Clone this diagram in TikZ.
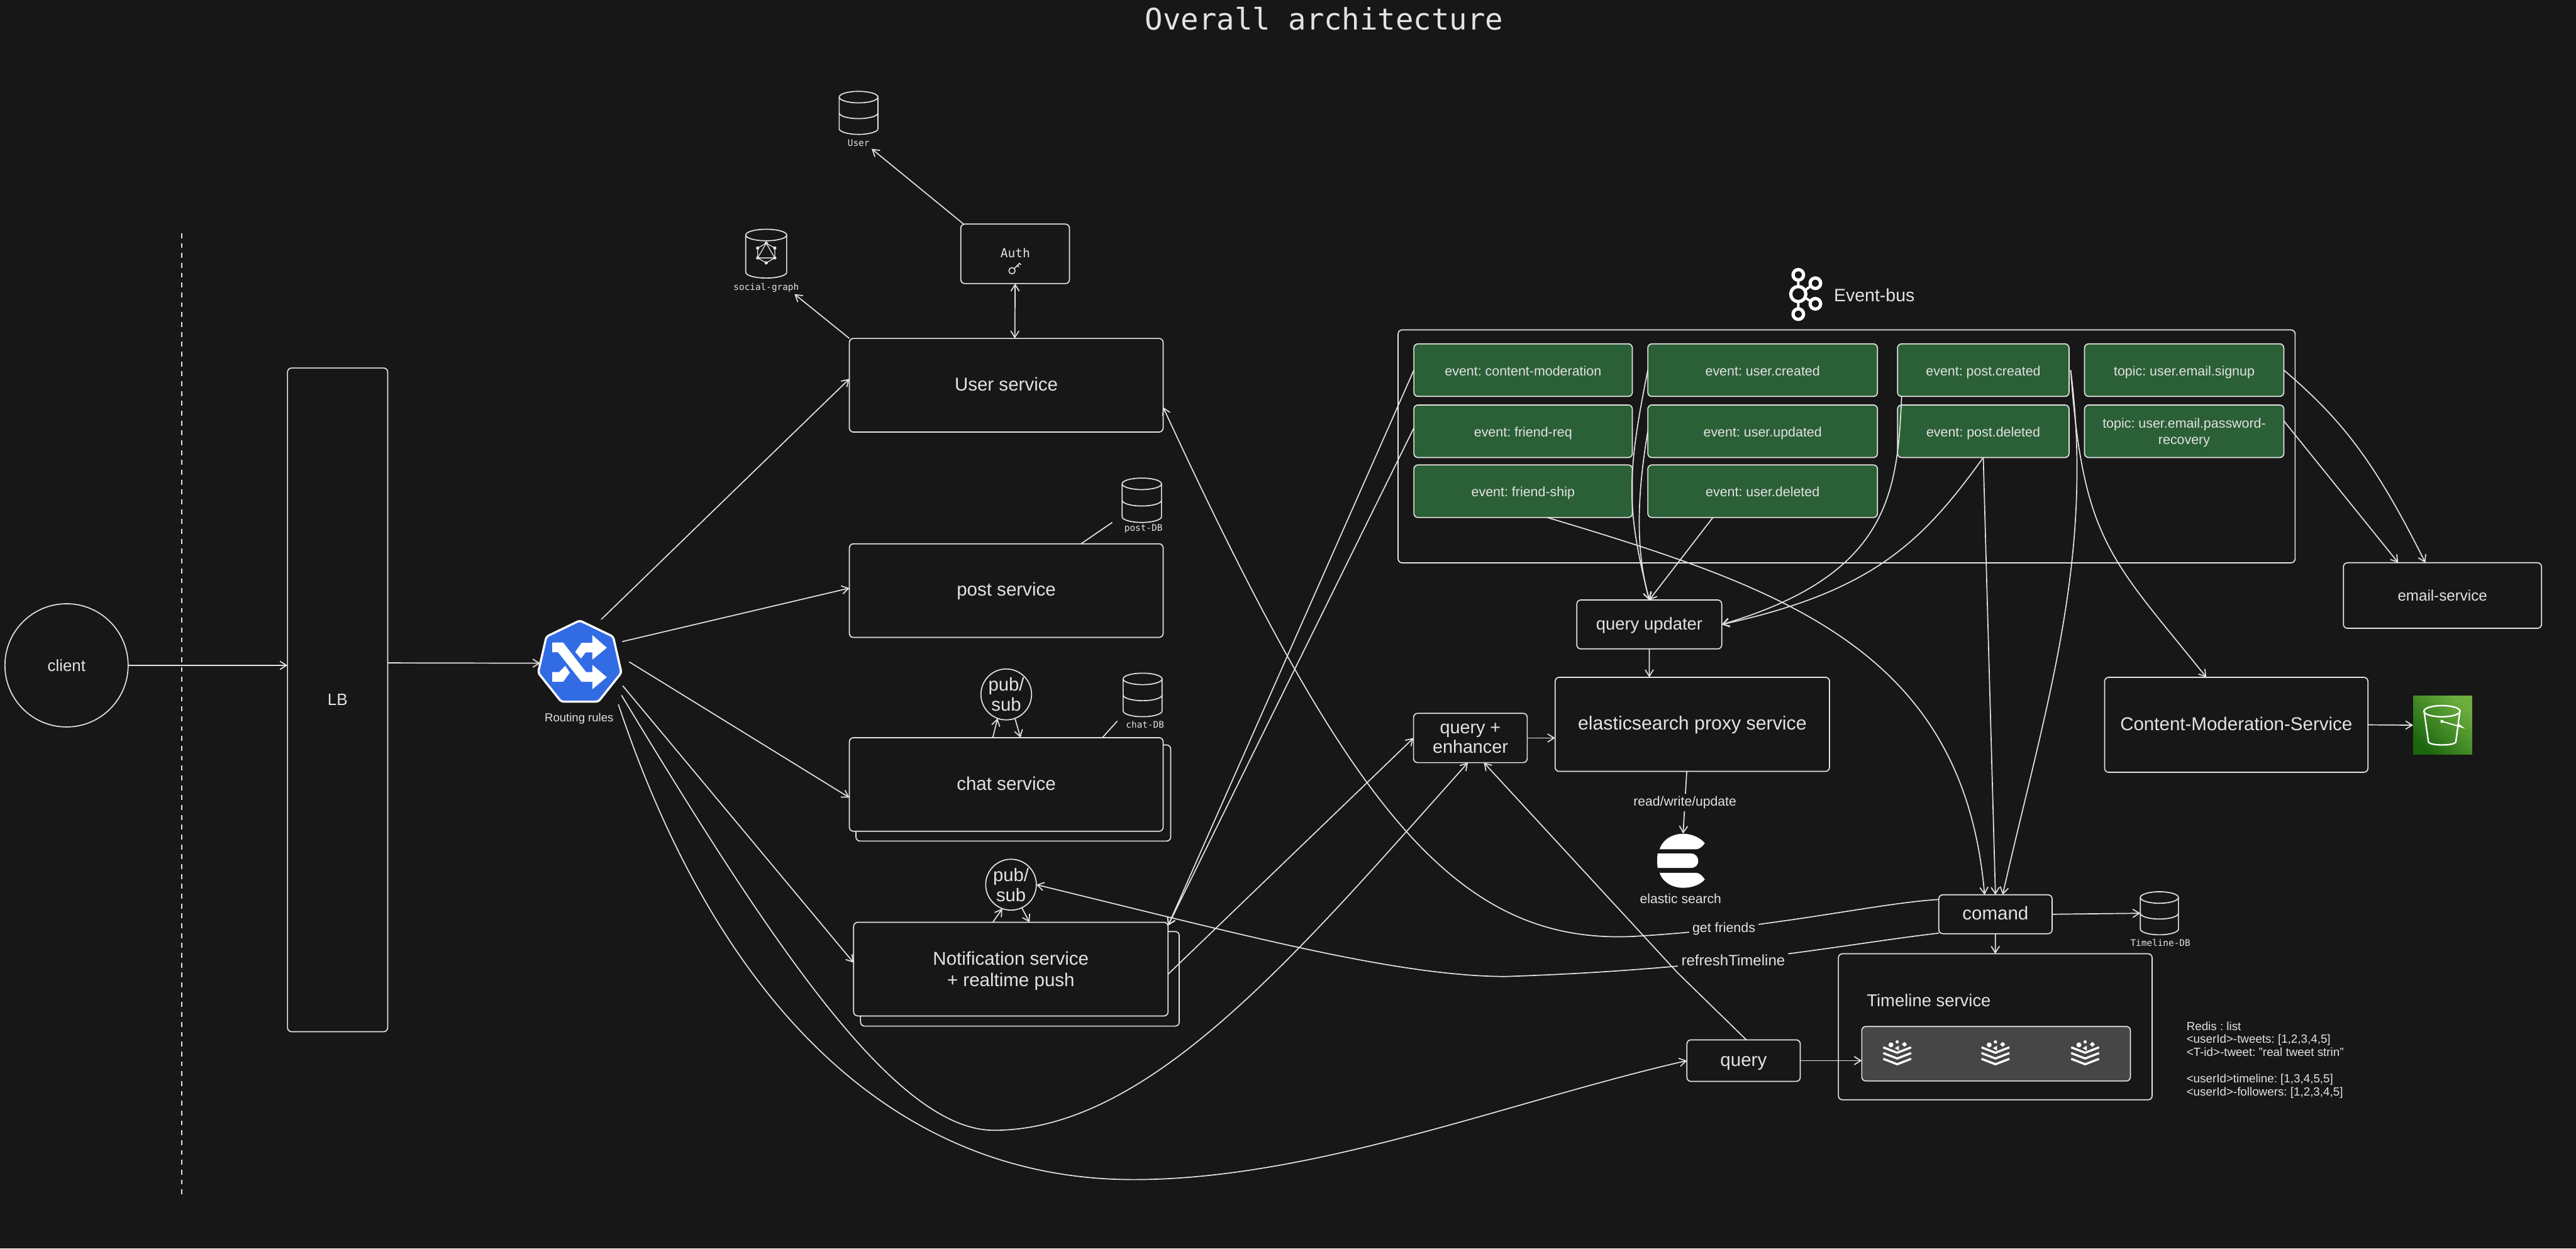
\documentclass[tikz,border=0pt]{standalone}
\usepackage{fontspec}
\setmainfont{Liberation Sans}
\setmonofont{DejaVu Sans Mono}
\usetikzlibrary{arrows.meta,shapes.geometric}
\definecolor{bgcol}{HTML}{171717}
\definecolor{inkcol}{HTML}{E3E3E3}
\definecolor{greencol}{HTML}{2B5F36}
\definecolor{panelcol}{HTML}{464646}
\definecolor{bluecol}{HTML}{326CE5}
\definecolor{slow}{HTML}{1B660F}
\definecolor{shigh}{HTML}{6CAE3E}
\newcommand{\sizedfont}[1]{\fontsize{#1}{#1}\selectfont}
\newcommand{\dbicon}[5]{
  \pgfmathsetmacro{\dbw}{#4/2}
  \pgfmathsetmacro{\dbh}{#5/2-3.5}
  \node[minimum width=#4pt,minimum height=#5pt,inner sep=0pt,outer sep=0pt] (#1) at (#2,#3) {};
  \begin{scope}[shift={(#2,#3)}]
    \draw[inkcol] (-\dbw,-\dbh) -- (-\dbw,\dbh)
      arc[start angle=180,end angle=360,x radius=\dbw pt,y radius=3.5pt] -- (\dbw,-\dbh);
    \draw[inkcol] (0,-\dbh) ellipse[x radius=\dbw pt,y radius=3.5pt];
  \end{scope}
}
\newcommand{\dbband}[2]{\draw[inkcol] (#1.west) arc[start angle=180,end angle=360,x radius=#2pt,y radius=3.5pt];}
\frenchspacing
\begin{document}
\begin{tikzpicture}[
  x=1pt,y=-1pt,
  >={Straight Barb[length=4pt,width=5pt]},
  every path/.style={line width=0.65pt},
  svc/.style 2 args={draw=inkcol,fill=bgcol,text=inkcol,rounded corners=2.5pt,align=center,
    text height=0.8em,text depth=0.13em,
    minimum width=#1pt,minimum height=#2pt,inner sep=0pt,outer sep=0pt,font=\fontsize{11.3}{12.8}\selectfont},
  evt/.style 2 args={svc={#1}{#2},fill=greencol,font=\fontsize{8.2}{9.6}\selectfont},
  multi/.style={text height={},text depth=0pt},
  pubsub/.style={draw=inkcol,ellipse,minimum width=29pt,minimum height=31pt,inner sep=0pt,outer sep=0pt,
    align=center,text=inkcol,font=\fontsize{11.2}{12.3}\selectfont},
  lbl/.style={fill=bgcol,text=inkcol,inner xsep=2pt,inner ysep=1.5pt,font=\sizedfont{8.2}},
  mono/.style={text=inkcol,inner sep=1pt,font=\ttfamily\sizedfont{5.5}},
  plain/.style={text=inkcol,inner sep=1pt},
  wire/.style={draw=inkcol,->}]
\fill[bgcol] (0,0) rectangle (1568,760);
\node[text=inkcol,inner sep=0pt,font=\ttfamily\sizedfont{18.1}] (title) at (806,11.5) {Overall architecture};
\coordinate (splittop) at (110.5,142);
\coordinate (splitbottom) at (110.5,727);
\draw[inkcol,dashed] (splittop) -- (splitbottom);
\node[circle,draw=inkcol,text=inkcol,minimum size=75pt,inner sep=0pt,outer sep=0pt,font=\sizedfont{9.9}] (client) at (40.5,405) {client};
\node[svc={61}{404},font=\sizedfont{10}] (lb) at (205.5,426) {LB};
\node[regular polygon,regular polygon sides=7,minimum size=52pt,inner sep=0pt,outer sep=0pt,
  draw=white,fill=bluecol,line width=1.3pt,rounded corners=1.5pt] (router) at (352.9,403.7) {};
\begin{scope}[shift={(312.8,368.8)},x=0.1098pt,y=-0.1098pt]
  \fill[white] (213,203) -- (273,203) -- (400,367) -- (435,367) -- (435,327) -- (515,395) -- (435,462) -- (435,421) -- (375,421) -- (245,257) -- (213,257) -- cycle;
  \fill[white] (340,255) -- (375,205) -- (435,205) -- (435,162) -- (515,232) -- (435,298) -- (435,258) -- (398,258) -- (372,292) -- cycle;
  \fill[white] (213,367) -- (250,367) -- (285,332) -- (310,370) -- (273,421) -- (213,421) -- cycle;
\end{scope}
\node[plain,font=\sizedfont{7.1}] (routerlbl) at (352.5,437.5) {Routing rules};
\node[svc={191}{57}] (usersvc) at (612.5,234.5) {User service};
\node[svc={191}{57}] (postsvc) at (612.5,359.5) {post service};
\node[svc={191.6}{58.5},fill=none] (chatback) at (616.8,482.7) {};
\node[svc={191}{57}] (chatsvc) at (612.5,477.5) {chat service};
\node[svc={194}{57.6},fill=none] (notifback) at (620.8,595.8) {};
\node[svc={191.4}{57},multi] (notifsvc) at (615.3,589.9) {Notification service\\+ realtime push};
\node[svc={66.2}{36.2}] (auth) at (617.9,154.5) {};
\node[plain,font=\ttfamily\sizedfont{7.5}] (authlbl) at (618,154) {Auth};
\draw[inkcol,line width=0.6pt] (616,164.8) circle[radius=1.9pt];
\draw[inkcol,line width=0.6pt] (617.4,163.4) -- (620.5,160.3) -- (621.5,161.2) (619.2,161.6) -- (620.3,162.6);
\dbicon{userdb}{522.6}{68.7}{23.6}{26.2}
\dbband{userdb}{11.8}
\node[mono] (userlbl) at (522.6,87.2) {User};
\dbicon{socialdb}{466.4}{154.4}{24.9}{29.7}
\node[mono] (sociallbl) at (466.4,175) {social-graph};
\begin{scope}[shift={(466.4,154)}]
  \draw[inkcol,line width=0.5pt] (90:6pt) -- (30:6pt) -- (-30:6pt) -- (-90:6pt) -- (-150:6pt) -- (150:6pt) -- cycle;
  \draw[inkcol,line width=0.5pt] (90:6pt) -- (-30:6pt) -- (-150:6pt) -- cycle;
  \foreach \ang in {90,30,-30,-90,-150,150}
    \fill[inkcol] (\ang:6pt) circle[radius=1pt];
\end{scope}
\dbicon{postdb}{695}{304.5}{24}{27}
\dbband{postdb}{12}
\node[mono] (postlbl) at (696,322) {post-DB};
\dbicon{chatdb}{695.5}{423}{23.7}{26.5}
\dbband{chatdb}{11.85}
\node[mono] (chatlbl) at (697,441) {chat-DB};
\node[pubsub] (pubchat) at (612.5,422.7) {pub/\\sub};
\node[pubsub] (pubnotif) at (615.4,538.5) {pub/\\sub};
\node[svc={546}{141.8},fill=none] (busframe) at (1124,271.7) {};
\foreach \kx/\ky/\kr in {1094.6/167.3/3.2,1094.6/179/4.6,1094.6/191.2/3.2,1105/172.4/3.2,1105/184.9/3.2}
  \draw[white,line width=2pt] (\kx,\ky) circle[radius=\kr pt];
\draw[white,line width=1.5pt] (1094.6,170.5) -- (1094.6,174.4) (1094.6,183.6) -- (1094.6,188) (1098.5,177) -- (1102.2,174) (1098.5,181) -- (1102.2,183.4);
\node[plain,anchor=west,inner sep=0pt,font=\sizedfont{10.9}] (buslbl) at (1116,179.5) {Event-bus};
\node[evt={133}{32}] (evmod) at (927.1,225.3) {event: content-moderation};
\node[evt={133}{32}] (evfriendreq) at (927.1,262.5) {event: friend-req};
\node[evt={133}{32}] (evfriendship) at (927.1,299) {event: friend-ship};
\node[evt={139.8}{32}] (evcreated) at (1072.9,225.3) {event: user.created};
\node[evt={139.8}{32}] (evupdated) at (1072.9,262.5) {event: user.updated};
\node[evt={139.8}{32}] (evdeleted) at (1072.9,299) {event: user.deleted};
\node[evt={104.4}{32}] (evpostc) at (1207.2,225.3) {event: post.created};
\node[evt={104.4}{32}] (evpostd) at (1207.2,262.5) {event: post.deleted};
\node[evt={121.3}{32}] (topicsignup) at (1329.5,225.3) {topic: user.email.signup};
\node[evt={121.3}{32},multi] (topicreset) at (1329.5,262.5) {topic: user.email.password-\\recovery};
\node[svc={88.2}{29.8},font=\sizedfont{10.5}] (qupdater) at (1003.9,380.1) {query updater};
\node[svc={69.2}{30},multi,font=\fontsize{11}{11.8}\selectfont] (qenhancer) at (895,449.2) {query +\\enhancer};
\node[svc={167}{57.3},font=\sizedfont{11.6}] (esproxy) at (1030.1,440.9) {elasticsearch proxy service};
\coordinate (eslogo) at (1024.5,507.4);
\fill[white] (1010.2,516.9) .. controls (1012,511) and (1018,507.5) .. (1024.5,507.5) .. controls (1030,507.5) and (1035,510) .. (1037.7,513.2) .. controls (1036.5,515) and (1034.5,516.9) .. (1032.6,516.9) -- cycle;
\fill[white] (1009,519.5) -- (1029.1,519.5) .. controls (1032,519.5) and (1033.7,521.5) .. (1033.7,524.2) .. controls (1033.7,526.5) and (1032,528.3) .. (1029.1,528.3) -- (1009,528.3) .. controls (1008.6,525) and (1008.6,522.5) .. (1009,519.5) -- cycle;
\fill[white] (1010.2,531.3) -- (1032.6,531.3) .. controls (1034.5,531.3) and (1036.5,533.5) .. (1037.7,535.3) .. controls (1035,538.5) and (1030,540.4) .. (1024.5,540.4) .. controls (1018,540.4) and (1012,537) .. (1010.2,531.3) -- cycle;
\node[plain,font=\sizedfont{8.1}] (eslbl) at (1023,547) {elastic search};
\node[svc={69}{23.7}] (comand) at (1214.6,556.5) {comand};
\dbicon{tldb}{1314.4}{555.9}{23.2}{26.2}
\dbband{tldb}{11.6}
\node[mono] (tllbl) at (1315,574) {Timeline-DB};
\node[svc={191}{88.9}] (timeline) at (1214.5,625) {};
\node[plain,anchor=west,inner sep=0pt,font=\sizedfont{10.5}] (timelinelbl) at (1136,609) {Timeline service};
\node[svc={163.5}{33.2},fill=panelcol] (redispanel) at (1215,641.4) {};
\foreach \rx in {1154.8,1214.6,1269.2} {
  \begin{scope}[shift={(\rx,640.5)}]
    \foreach \ry in {-3,0.5,4}
      \draw[white,line width=1.3pt] (-8.5,\ry) -- (0,\ry+3.3) -- (8.5,\ry);
    \fill[white] (0,-6.3) circle[radius=1pt];
    \fill[white] (-3.8,-4.5) circle[radius=1.5pt];
    \fill[white] (4.4,-6.3) -- (6,-4.8) -- (4.4,-3.3) -- (2.8,-4.8) -- cycle;
    \fill[white] (-1.5,-2.5) -- (1,-4) -- (1,-1) -- cycle;
  \end{scope}
}
\node[plain,anchor=north west,inner sep=0pt,align=left,font=\fontsize{7.2}{8}\selectfont] (redislbl) at (1330.6,621.5)
  {Redis : list\\<userId>-tweets: [1,2,3,4,5]\\<T-id>-tweet: "real tweet strin"\\[8pt]<userId>timeline: [1,3,4,5,5]\\<userId>-followers: [1,2,3,4,5]};
\node[svc={69}{25.3}] (query) at (1061.3,645.6) {query};
\node[svc={120.6}{39.9},font=\sizedfont{9.25}] (emailsvc) at (1486.7,362.5) {email-service};
\node[svc={160.3}{57.8}] (cmsvc) at (1361.2,441.2) {Content-Moderation-Service};
\node[minimum width=35.7pt,minimum height=35.7pt,inner sep=0pt,outer sep=0pt,
  bottom color=slow,top color=shigh,shading angle=-45] (s3) at (1486.7,441.4) {};
\draw[white,line width=0.9pt] (1486.4,432.9) ellipse[x radius=11pt,y radius=3.4pt];
\draw[white,line width=0.9pt] (1475.5,433) -- (1478.2,451.8) .. controls (1480,454) and (1493,454) .. (1494.8,451.8) -- (1497.3,433);
\fill[white] (1486.4,439.1) circle[radius=1pt];
\draw[white,line width=0.7pt] (1486.4,439.1) -- (1498.8,442.7) -- (1496,440.5);
\draw[wire] (client.east) -- ([yshift=21pt]lb.west);
\draw[wire] ([yshift=22.5pt]lb.east) -- (router.180);
\draw[wire] ([shift={(63.9:29.7pt)}]router.center) -- ([yshift=3.9pt]usersvc.west);
\draw[wire] ([shift={(27:29pt)}]router.center) -- ([yshift=1.5pt]postsvc.west);
\draw[wire] ([shift={(1.7:30pt)}]router.center) -- ([yshift=-8pt]chatsvc.west);
\draw[wire] ([shift={(-27.7:29.5pt)}]router.center) -- ([yshift=3.9pt]notifsvc.west);
\draw[wire] ([shift={(-37.5:32pt)}]router.center) .. controls (470,575) and (545,688) .. (605,688)
  .. controls (700,688) and (790,580) .. ([xshift=-1.5pt]qenhancer.south);
\draw[wire] ([shift={(-46.8:34.3pt)}]router.center) .. controls (430,590) and (530,718) .. (690,718)
  .. controls (800,718) and (920,670) .. (query.west);
\draw[wire] (auth.150) -- (userlbl.south east);
\draw[wire,<->] (auth.south) -- ([xshift=5.2pt]usersvc.north);
\draw[wire] (usersvc.north west) -- ([xshift=-4pt]sociallbl.south east);
\draw[inkcol] ([xshift=-6pt]postdb.south west) -- ([xshift=45.5pt]postsvc.north);
\draw[inkcol] ([xshift=-3.6pt,yshift=-2.7pt]chatdb.south west) -- ([xshift=58.5pt]chatsvc.north);
\draw[wire] ([xshift=-8.2pt]chatsvc.north) -- (pubchat.250);
\draw[wire] (pubchat.290) -- ([xshift=8.7pt]chatsvc.north);
\draw[wire] ([xshift=-11pt]notifsvc.north) -- (pubnotif.250);
\draw[wire] (pubnotif.295) -- ([xshift=11.4pt]notifsvc.north);
\draw[wire] (evmod.west) -- ([yshift=-2pt]notifsvc.north east);
\draw[wire] ([yshift=2pt]evfriendreq.west) -- ([yshift=-2pt]notifsvc.north east);
\draw[wire] ([yshift=-3.1pt]notifsvc.east) -- (qenhancer.west);
\draw[wire] (qenhancer.east) -- ([yshift=-8.3pt]esproxy.west);
\draw[wire] (qupdater.south) -- ([xshift=-26.2pt]esproxy.north);
\draw[wire] ([xshift=-3.4pt]esproxy.south) -- node[lbl,font=\sizedfont{8.1}] {read/write/update} (eslogo);
\draw[wire] (evcreated.west) .. controls (990,290) and (990,310) .. (qupdater.north);
\draw[wire] (evupdated.west) .. controls (995,310) and (997,340) .. (qupdater.north);
\draw[wire] ([xshift=-30.3pt]evdeleted.south) -- (qupdater.north);
\draw[wire] ([xshift=-49.7pt]evpostc.south) .. controls (1155,300) and (1150,350) .. (qupdater.east);
\draw[wire] (evpostd.south) .. controls (1170,330) and (1140,360) .. (qupdater.east);
\draw[wire] (evpostd.south) -- (comand.north);
\draw[wire] ([xshift=1pt]evpostc.east) .. controls (1275,340) and (1245,430) .. ([xshift=4.4pt]comand.north);
\draw[wire] ([xshift=1pt]evpostc.east) .. controls (1268,330) and (1285,340) .. ([xshift=-18.2pt]cmsvc.north);
\draw[wire] ([xshift=14.7pt]evfriendship.south) .. controls (1085,358) and (1195,395) .. ([xshift=-6.6pt]comand.north);
\draw[wire] (topicsignup.east) .. controls (1425,255) and (1445,280) .. ([xshift=-10.4pt]emailsvc.north);
\draw[wire] ([yshift=6.3pt]topicreset.east) -- ([xshift=-26.9pt]emailsvc.north);
\draw[wire] (cmsvc.east) -- (s3.west);
\draw[wire] ([yshift=9pt]comand.west) .. controls (1140,550) and (1080,565) .. node[lbl,pos=0.77] {get friends} (994,570)
  .. controls (885,575) and (820,490) .. ([yshift=-13.4pt]usersvc.east);
\draw[wire] ([yshift=-11.5pt]comand.west) .. controls (1120,575) and (1050,590) .. node[lbl,pos=0.58,font=\sizedfont{9.2}] {refreshTimeline} (916,594.4)
  .. controls (850,594) and (760,570) .. (pubnotif.east);
\draw[wire] (comand.east) -- (tldb.west);
\draw[wire] (comand.south) -- (timeline.north);
\draw[wire] (query.east) -- (redispanel.west |- query.east);
\draw[wire] ([xshift=1.7pt]query.north) -- (1021,592) -- ([xshift=8.2pt]qenhancer.south);
\end{tikzpicture}
\end{document}
